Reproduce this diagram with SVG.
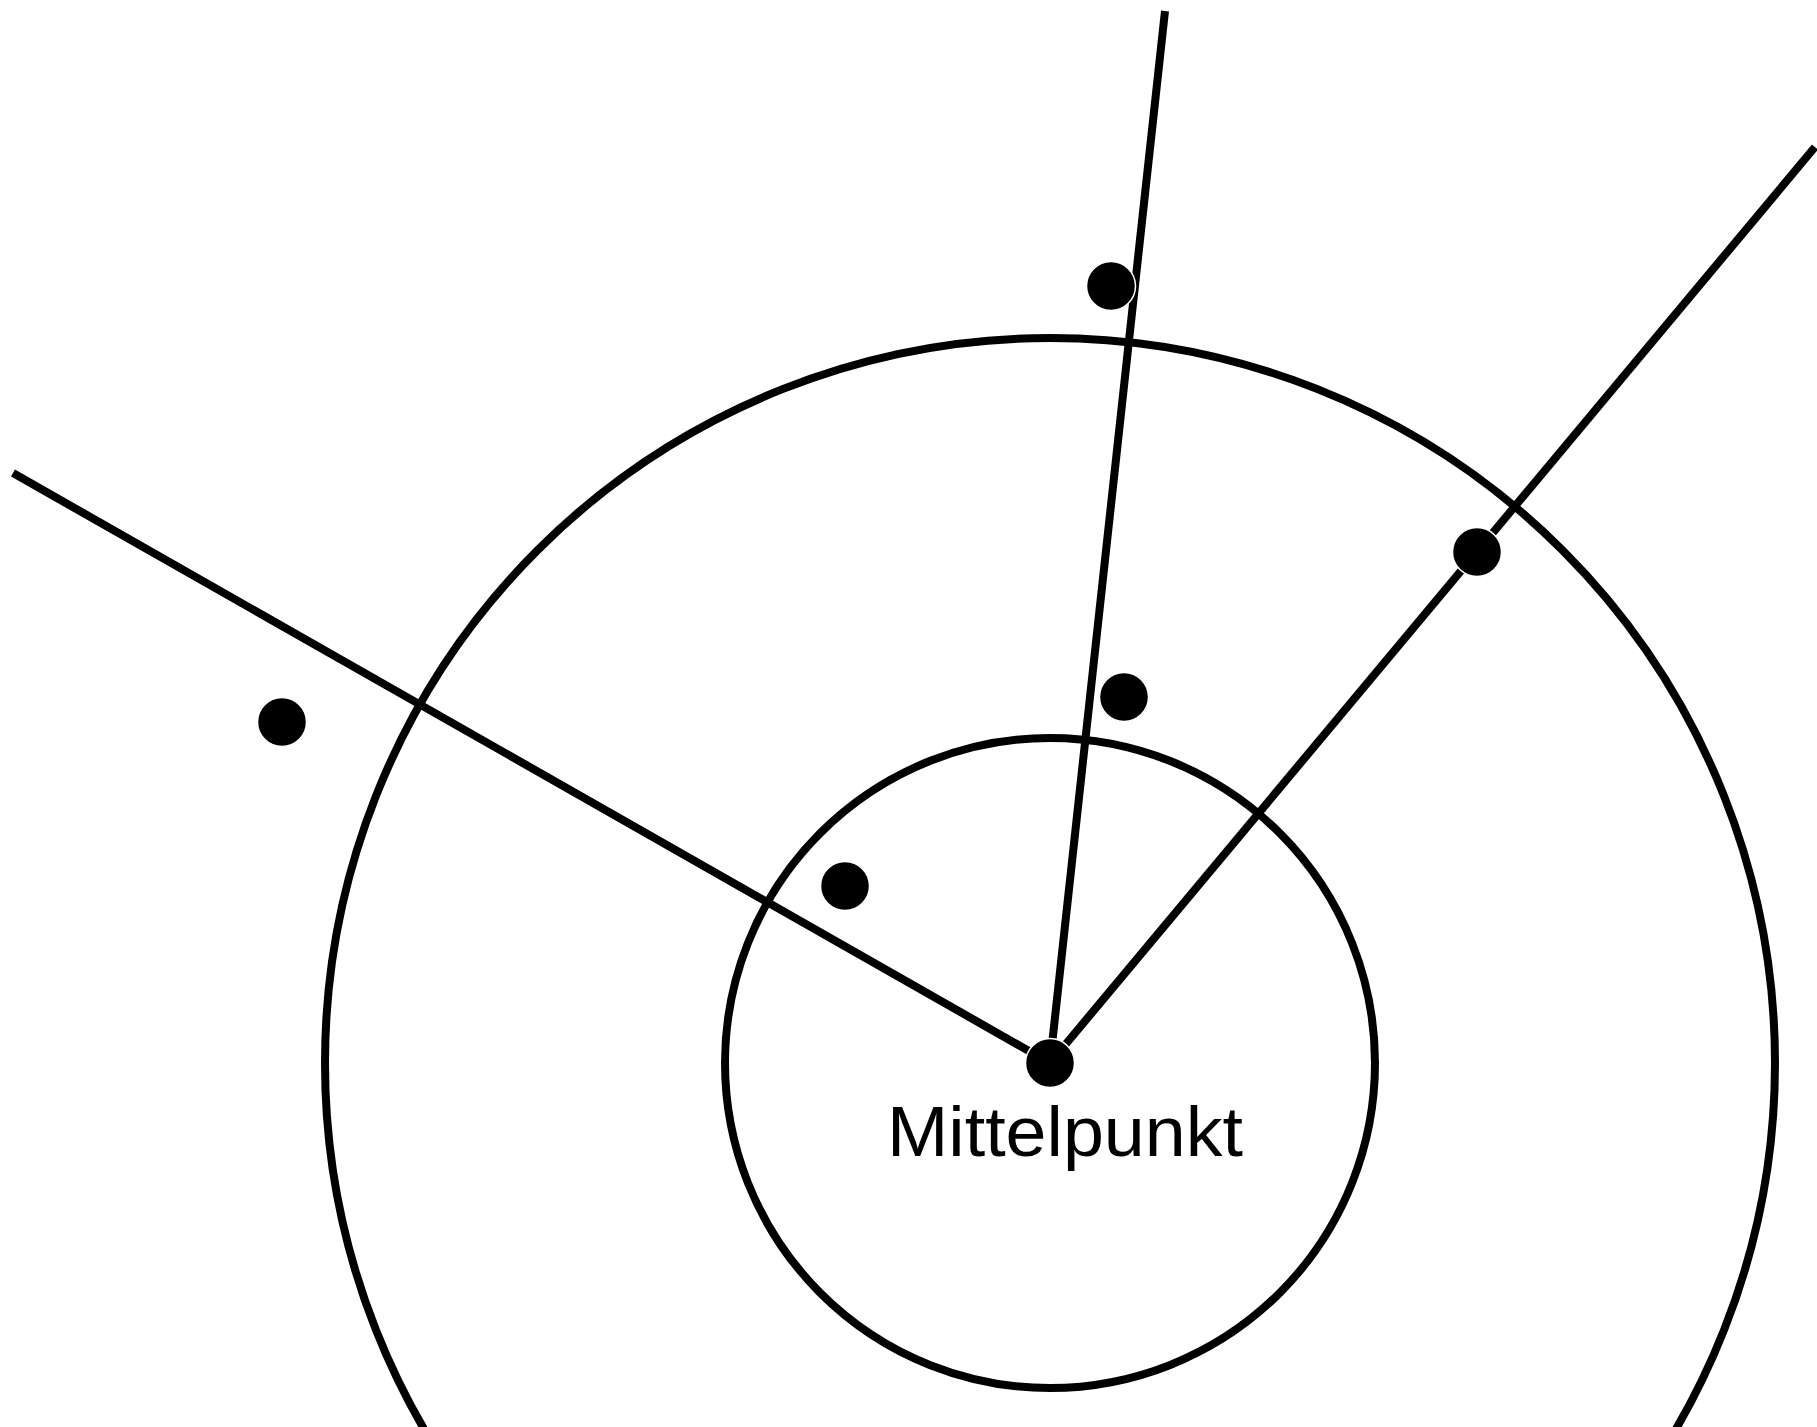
<svg xmlns="http://www.w3.org/2000/svg" width="1817" height="1427" viewBox="0 0 1817 1427">
<style>
.ring{fill:none;stroke:#000;stroke-width:8}
.ray{stroke:#000;stroke-width:8;fill:none}
.dot{fill:#000;stroke:#fff;stroke-width:1.5}
.lbl{font-family:"Liberation Sans",Arial,sans-serif;font-size:71px;fill:#000;text-anchor:middle}
</style>
<rect width="1817" height="1427" fill="#fff"/>
<g id="circles">
<circle class="ring" cx="1050" cy="1063" r="725"/>
<circle class="ring" cx="1050" cy="1063" r="325"/>
</g>
<g id="connectors">
<line class="ray" x1="1050" y1="1063" x2="13" y2="473"/>
<line class="ray" x1="1050" y1="1063" x2="1165" y2="11"/>
<line class="ray" x1="1050" y1="1063" x2="1815" y2="147"/>
</g>
<g id="dot-left"><circle class="dot" cx="282" cy="722" r="24.5"/></g>
<g id="dot-inner"><circle class="dot" cx="845" cy="886" r="24.5"/></g>
<g id="dot-mid"><circle class="dot" cx="1124" cy="697" r="24.5"/></g>
<g id="dot-top"><circle class="dot" cx="1111" cy="286" r="24.5"/></g>
<g id="dot-right"><circle class="dot" cx="1477" cy="552" r="24.5"/></g>
<g id="center"><circle class="dot" cx="1050" cy="1063" r="24.5"/>
<text class="lbl" x="1065" y="1156" textLength="356" lengthAdjust="spacingAndGlyphs">Mittelpunkt</text></g>
</svg>
